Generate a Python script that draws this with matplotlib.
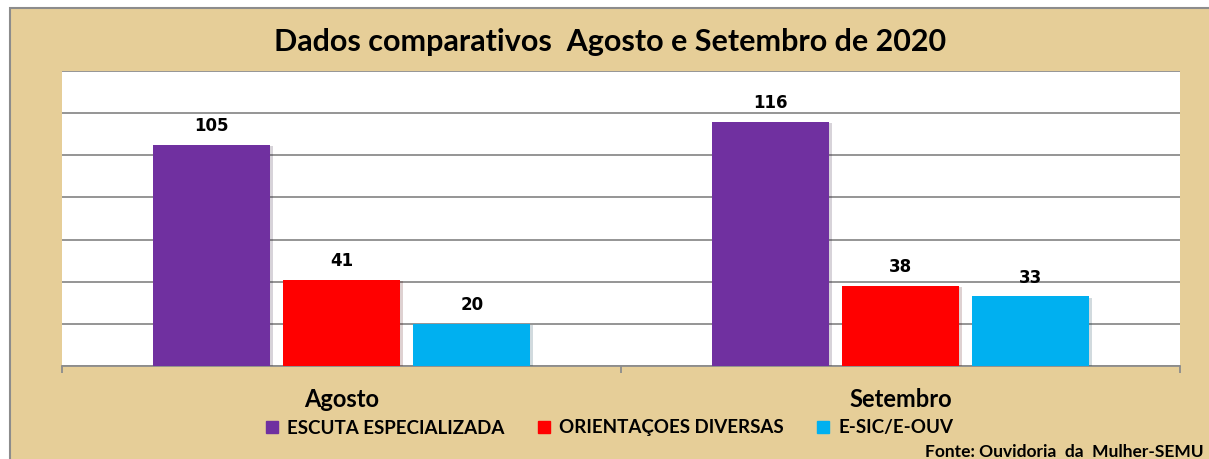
import numpy as np
import matplotlib.pyplot as plt
from matplotlib.patches import Rectangle
from matplotlib.lines import Line2D
import matplotlib.patheffects as pe

categories = ['Agosto', 'Setembro']
series_names = ['ESCUTA ESPECIALIZADA', 'ORIENTAÇOES DIVERSAS', 'E-SIC/E-OUV']
escuta = [105, 116]
orientacoes = [41, 38]
esic = [20, 33]
colors = ['#7030A0', '#FF0000', '#00B0F0']

fig = plt.figure(figsize=(12.09, 4.59), dpi=100, facecolor='white')

# papyrus-like frame behind everything
fig.patches.append(Rectangle((10 / 1209, -0.01), 1.01, 1 - 8 / 459 + 0.01,
                             transform=fig.transFigure, facecolor='#E6CE98',
                             edgecolor='#8C8C8C', linewidth=1.5, zorder=-5))

ax = fig.add_axes([62 / 1209, 93 / 459, 1118 / 1209, 295 / 459])
ax.set_zorder(2)
ax.set_facecolor('white')

x = np.arange(len(categories))
w = 0.21
step = 0.233
shadow = [pe.SimplePatchShadow(offset=(2, -1), alpha=0.18), pe.Normal()]
for i, vals in enumerate([escuta, orientacoes, esic]):
    bars = ax.bar(x + (i - 1) * step, vals, width=w, color=colors[i],
                  zorder=3, label=series_names[i])
    for b in bars:
        b.set_path_effects(shadow)
    for xi, v in zip(x + (i - 1) * step, vals):
        ax.text(xi, v + 4.5, str(v), ha='center', va='bottom',
                fontsize=12, fontweight='bold', family='DejaVu Sans')

ax.set_ylim(0, 140)
ax.set_yticks(np.arange(0, 141, 20))
ax.tick_params(axis='y', length=0, labelleft=False)
ax.grid(axis='y', color='#8C8C8C', linewidth=1.3, zorder=1)
ax.set_xlim(-0.5, 1.5)
ax.set_xticks([-0.5, 0.5, 1.5])
ax.set_xticklabels([])
ax.tick_params(axis='x', which='major', length=5, color='#8C8C8C', width=1.3)
ax.set_xticks(x, minor=True)
ax.set_xticklabels(categories, minor=True, fontsize=17, fontweight='bold',
                   family='Lato')
ax.tick_params(axis='x', which='minor', length=0, pad=16)
for s in ['left', 'right', 'top']:
    ax.spines[s].set_visible(False)
ax.spines['bottom'].set_color('#8C8C8C')
ax.spines['bottom'].set_linewidth(1.3)

fig.text(610 / 1209, 1 - 42 / 459, 'Dados comparativos  Agosto e Setembro de 2020',
         ha='center', va='center', fontsize=22, fontweight='bold', family='Lato')

handles = [Line2D([], [], marker='s', linestyle='', markersize=9, color=c)
           for c in colors]
fig.legend(handles, series_names, loc='center', ncol=3,
           bbox_to_anchor=(608 / 1209, 31 / 459), frameon=False,
           prop={'family': 'Lato', 'weight': 'bold', 'size': 13.5},
           handletextpad=0.3, columnspacing=1.6, handlelength=1.0)

fig.text(1204 / 1209, 1 - 452 / 459, 'Fonte: Ouvidoria  da  Mulher-SEMU',
         ha='right', va='center', fontsize=12.5, fontweight='bold', family='Lato')

fig.savefig('out.png', dpi=100, facecolor=fig.get_facecolor())
